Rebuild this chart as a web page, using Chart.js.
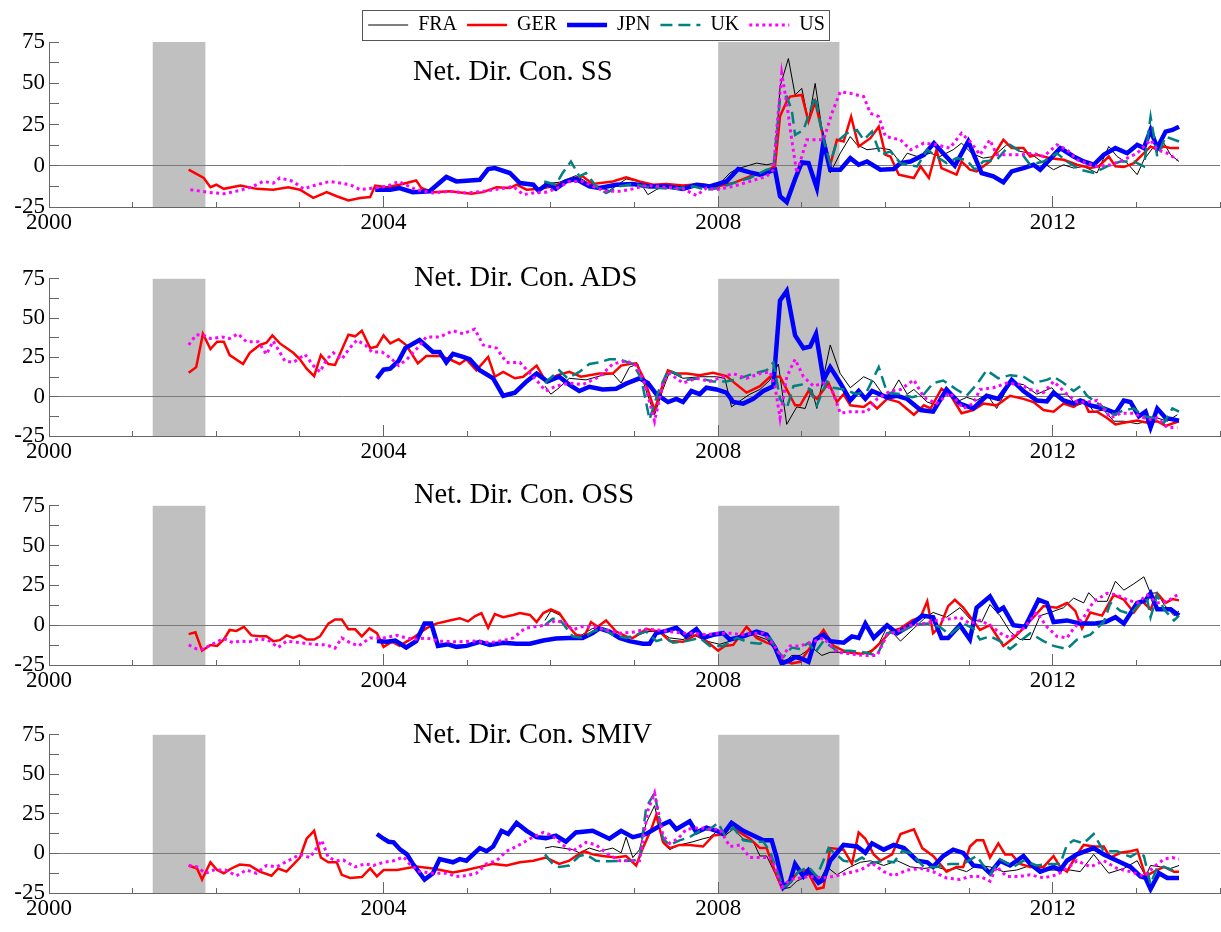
<!DOCTYPE html>
<html><head><meta charset="utf-8">
<script src="https://cdn.jsdelivr.net/npm/chart.js@4.4.1/dist/chart.umd.min.js"></script>
<style>
html,body{margin:0;padding:0;background:#fff;overflow:hidden;}
#wrap{position:relative;width:1221px;height:932px;overflow:hidden;background:#fff;}
.pnl{position:absolute;left:0;width:1221px;overflow:visible;}
.pnl canvas{display:block;}
.ttl{position:absolute;font-family:"Liberation Serif",serif;font-size:28.5px;line-height:28px;color:#000;white-space:nowrap;}
</style></head><body>
<div id="wrap"></div>
<script>
// ---------------- data ----------------
const countries = ['FRA','GER','JPN','UK','US'];
const panelTitles = ['Net. Dir. Con. SS','Net. Dir. Con. ADS','Net. Dir. Con. OSS','Net. Dir. Con. SMIV'];
const xLabelYears = [2000, 2004, 2008, 2012];
const yLabelValues = [-25, 0, 25, 50, 75];
const recessionStart = [2001.24, 2008.0];
const recessionEnd = [2001.87, 2009.45];

// Panel 1: SS  ([year, value])
const ss_FRA = [[2005.92,-11],[2006.1,-10],[2006.3,-6],[2006.5,-12],[2006.7,-15],[2006.9,-8],[2007.06,-9.5],[2007.16,-17.5],[2007.26,-14.5],[2007.38,-12],[2007.58,-13],[2007.78,-12],[2007.98,-13],[2008.14,-4.4],[2008.22,-2],[2008.46,1.6],[2008.58,0.6],[2008.68,1.6],[2008.74,48],[2008.84,65],[2008.92,42.9],[2009.0,46.9],[2009.08,26.8],[2009.16,49.9],[2009.26,15.7],[2009.34,-4.4],[2009.46,7.6],[2009.58,17.7],[2009.66,12.7],[2009.78,9.7],[2009.94,10.7],[2010.06,9.7],[2010.18,1.6],[2010.26,7.6],[2010.38,5.6],[2010.54,7.6],[2010.65,5.6],[2010.81,9.7],[2010.91,13.7],[2011.03,7.6],[2011.17,4.6],[2011.29,5.6],[2011.45,12.7],[2011.61,8.7],[2011.73,7.6],[2011.89,1.6],[2012.01,-2.4],[2012.13,0.6],[2012.25,-1.4],[2012.37,-0.4],[2012.53,-4.4],[2012.67,11.7],[2012.77,5.6],[2012.89,1.6],[2013.01,-5.4],[2013.09,3.6],[2013.21,11.7],[2013.33,13.7],[2013.41,6.6],[2013.51,2.6]];
const ss_GER = [[2001.67,-2.4],[2001.85,-7.4],[2001.93,-13],[2002.0,-11.5],[2002.09,-14],[2002.29,-12],[2002.48,-14],[2002.68,-14.5],[2002.86,-13],[2003.0,-14.5],[2003.16,-19.5],[2003.32,-16],[2003.44,-18.5],[2003.58,-21],[2003.72,-19.5],[2003.84,-19],[2003.9,-12],[2004.04,-13],[2004.19,-11.5],[2004.39,-8.9],[2004.45,-13.5],[2004.59,-16],[2004.79,-15.5],[2005.05,-17],[2005.19,-16],[2005.35,-13],[2005.51,-13.5],[2005.59,-11.5],[2005.71,-14.5],[2005.87,-14],[2006.02,-12.5],[2006.26,-7.8],[2006.38,-6.4],[2006.5,-11],[2006.74,-9.5],[2006.9,-7],[2007.06,-9.5],[2007.22,-11.5],[2007.38,-11],[2007.58,-12],[2007.78,-11],[2007.98,-12.5],[2008.18,-10.5],[2008.38,-6.4],[2008.58,-3.4],[2008.68,0],[2008.74,30],[2008.82,39],[2008.86,41.9],[2009.0,42.9],[2009.08,26.8],[2009.16,38.8],[2009.26,16.7],[2009.34,0.6],[2009.42,15.7],[2009.5,14.7],[2009.59,29.8],[2009.68,11.7],[2009.82,16.7],[2009.92,23.7],[2010.0,6.6],[2010.06,5.6],[2010.16,-5.4],[2010.34,-7.4],[2010.42,-0.4],[2010.52,-7.4],[2010.61,9.7],[2010.67,-1.4],[2010.85,-5.4],[2010.91,2.6],[2011.01,-2.4],[2011.09,-3.4],[2011.25,2.6],[2011.41,15.7],[2011.51,10.7],[2011.65,10.7],[2011.73,5.6],[2011.81,6.6],[2011.97,4.6],[2012.13,3.6],[2012.29,0.6],[2012.45,-1.4],[2012.55,-0.4],[2012.67,5.6],[2012.75,-0.4],[2012.85,-0.8],[2012.97,1.6],[2013.07,6.6],[2013.17,11.7],[2013.25,9.7],[2013.33,11.7],[2013.41,10.7],[2013.51,10.7]];
const ss_JPN = [[2003.9,-14.5],[2004.08,-14.5],[2004.19,-13.5],[2004.35,-16],[2004.55,-15.5],[2004.75,-6.8],[2004.87,-9.5],[2005.15,-8.5],[2005.25,-2],[2005.33,-1.4],[2005.51,-4.4],[2005.63,-10.5],[2005.79,-11.5],[2005.85,-15],[2005.96,-11],[2006.06,-14],[2006.18,-9.5],[2006.3,-8],[2006.46,-12.5],[2006.58,-13.5],[2006.78,-11.5],[2006.98,-11],[2007.18,-12.5],[2007.38,-12.5],[2007.58,-14],[2007.74,-11.5],[2007.9,-12.5],[2008.1,-9.5],[2008.24,-2],[2008.38,-4],[2008.5,-5.4],[2008.62,-3.4],[2008.68,-2.4],[2008.74,-18.5],[2008.82,-22],[2008.92,-8],[2009.0,2],[2009.08,1.6],[2009.18,-13.5],[2009.26,14.7],[2009.34,-2.4],[2009.46,-2.4],[2009.58,4.6],[2009.68,0.6],[2009.78,2.6],[2009.94,-2.4],[2010.1,-2],[2010.18,1.6],[2010.3,2.6],[2010.46,6.6],[2010.58,13.7],[2010.69,7.6],[2010.83,0],[2010.99,14.7],[2011.15,-4.4],[2011.29,-6.4],[2011.41,-10],[2011.51,-3.4],[2011.65,-1.4],[2011.77,0.6],[2011.85,-2.4],[2012.09,10.7],[2012.25,5.6],[2012.37,2.6],[2012.49,0.6],[2012.61,6.6],[2012.75,10.7],[2012.89,7.6],[2013.01,12.7],[2013.09,10.7],[2013.17,21.7],[2013.25,10.7],[2013.35,20.7],[2013.43,21.7],[2013.51,23.7]];
const ss_UK = [[2005.92,-9.5],[2006.06,-11.5],[2006.14,-4.4],[2006.24,2.6],[2006.34,-6.4],[2006.42,-4.4],[2006.54,-12.5],[2006.66,-16.5],[2006.82,-12.5],[2006.98,-11],[2007.14,-12.5],[2007.3,-13.5],[2007.5,-14],[2007.7,-12.5],[2007.86,-14.5],[2008.02,-13.5],[2008.18,-10.5],[2008.38,-7.4],[2008.58,-2.4],[2008.66,-1.4],[2008.74,40.8],[2008.82,41.9],[2008.88,33.8],[2008.92,18.7],[2009.02,21.7],[2009.16,41.9],[2009.26,15.7],[2009.34,1.6],[2009.42,14.7],[2009.54,19.7],[2009.66,21.7],[2009.74,15.7],[2009.84,20.7],[2009.94,6.6],[2010.06,8.7],[2010.18,1.6],[2010.26,0.6],[2010.38,-0.4],[2010.5,9.7],[2010.61,5.6],[2010.73,1.6],[2010.85,4.6],[2010.97,3.6],[2011.07,-2.4],[2011.17,2.6],[2011.33,3.6],[2011.49,12.7],[2011.61,8.7],[2011.73,0.6],[2011.89,2.6],[2012.05,7.6],[2012.17,2.6],[2012.33,-2.4],[2012.49,-4.4],[2012.65,-0.4],[2012.81,2.6],[2012.97,2.6],[2013.09,-0.4],[2013.17,29.8],[2013.25,5.6],[2013.35,17.7],[2013.51,14.7]];
const ss_US = [[2001.69,-14.5],[2001.89,-16],[2002.09,-17],[2002.28,-15],[2002.44,-12.5],[2002.56,-9.5],[2002.68,-10.5],[2002.76,-7.4],[2002.92,-9.5],[2003.04,-14],[2003.2,-11.5],[2003.36,-9.5],[2003.48,-10.5],[2003.6,-11.5],[2003.72,-14.5],[2003.88,-13.5],[2004.04,-12.5],[2004.18,-9.5],[2004.39,-14.5],[2004.59,-16.5],[2004.79,-15.5],[2004.99,-16.5],[2005.19,-15.5],[2005.39,-14],[2005.55,-12.5],[2005.67,-17.5],[2005.79,-16.5],[2005.94,-16],[2006.06,-14],[2006.22,-9.5],[2006.38,-9.5],[2006.5,-12.5],[2006.66,-15.5],[2006.82,-15.5],[2006.98,-14],[2007.14,-12],[2007.38,-13],[2007.58,-14],[2007.74,-18],[2007.86,-13.5],[2007.98,-14.5],[2008.18,-12.5],[2008.38,-9.5],[2008.58,-6.4],[2008.66,-2.4],[2008.7,21.7],[2008.76,56],[2008.82,37.8],[2008.88,15.7],[2008.94,-4.4],[2009.06,15.7],[2009.26,15.7],[2009.36,31.8],[2009.46,44.9],[2009.58,43.9],[2009.74,41.9],[2009.82,31.8],[2009.92,29.8],[2010.0,17.7],[2010.18,15.7],[2010.3,9.7],[2010.46,13.7],[2010.61,12.7],[2010.77,10.7],[2010.91,19.7],[2011.03,13.7],[2011.13,6.6],[2011.25,15.7],[2011.33,6.6],[2011.45,6.6],[2011.61,6.6],[2011.77,7.6],[2011.89,5.6],[2012.05,12.7],[2012.17,9.7],[2012.29,3.6],[2012.41,1.6],[2012.53,-0.4],[2012.69,0.6],[2012.85,3.6],[2013.01,7.6],[2013.17,15.7],[2013.25,9.7],[2013.37,7.6],[2013.49,3.6]];

// Panel 2: ADS
const ads_FRA = [[2005.93,6.7],[2006.0,1.6],[2006.1,5.7],[2006.22,11.7],[2006.42,10.7],[2006.62,13.7],[2006.74,14.7],[2006.84,8.7],[2006.94,18.8],[2007.04,20.8],[2007.14,3.6],[2007.24,-11.5],[2007.34,4.6],[2007.42,15.8],[2007.58,11.7],[2007.78,12.7],[2007.98,12.7],[2008.08,11.7],[2008.16,-6.5],[2008.24,-3.4],[2008.38,1.6],[2008.5,4.6],[2008.62,10.7],[2008.72,20.8],[2008.82,-17.6],[2008.94,-6.5],[2009.04,-7.5],[2009.12,4.6],[2009.18,-7.5],[2009.26,12.7],[2009.34,32.9],[2009.46,14.7],[2009.58,5.7],[2009.74,12.7],[2009.86,9.7],[2009.98,0.6],[2010.06,1.6],[2010.16,10.7],[2010.26,1.6],[2010.34,4.6],[2010.5,-3.4],[2010.61,-5.5],[2010.73,3.6],[2010.85,-3.4],[2010.97,-0.4],[2011.09,-2.4],[2011.21,1.6],[2011.33,-7.5],[2011.49,8.7],[2011.65,7.7],[2011.81,1.6],[2011.99,5.7],[2012.05,1.6],[2012.17,1.6],[2012.29,-5.5],[2012.41,-3.4],[2012.49,-9.5],[2012.61,-8.5],[2012.73,-15.6],[2012.85,-15.6],[2013.01,-17.2],[2013.13,-15.6],[2013.25,-13.5],[2013.37,-15.6],[2013.49,-11.5]];
const ads_GER = [[2001.67,15.2],[2001.76,18.8],[2001.84,40],[2001.93,30.3],[2002.01,35],[2002.09,35],[2002.16,26.5],[2002.32,20.8],[2002.4,27.9],[2002.52,32.9],[2002.6,34.3],[2002.67,39],[2002.76,33.9],[2002.92,27.9],[2003.0,23.8],[2003.08,17.8],[2003.17,13.1],[2003.25,26.5],[2003.34,20.8],[2003.42,20.2],[2003.58,39.4],[2003.66,38.4],[2003.74,42],[2003.84,30.9],[2003.92,31.9],[2004.0,39],[2004.08,33.9],[2004.18,36.6],[2004.27,32.9],[2004.41,21.2],[2004.51,25.9],[2004.67,25.9],[2004.79,23.8],[2004.91,20.8],[2004.99,23.8],[2005.11,16.8],[2005.25,25.3],[2005.33,12.7],[2005.43,15.8],[2005.57,11.7],[2005.67,12.7],[2005.83,19.8],[2005.94,9.7],[2006.08,13.7],[2006.22,15.8],[2006.36,12.7],[2006.58,14.7],[2006.74,14.7],[2006.84,19.8],[2006.94,20.8],[2007.02,21.2],[2007.12,10.7],[2007.24,-8.5],[2007.32,4.6],[2007.4,16.8],[2007.5,14.7],[2007.62,14.7],[2007.78,13.7],[2007.94,15.2],[2008.1,13.1],[2008.22,7.7],[2008.34,2.6],[2008.5,6.7],[2008.62,12.7],[2008.74,12.7],[2008.84,2.6],[2008.92,-5.5],[2008.98,-5.5],[2009.08,3.6],[2009.18,-1.4],[2009.32,8.7],[2009.42,-3.4],[2009.5,1.6],[2009.58,-5.5],[2009.74,-6.5],[2009.82,-3.4],[2009.9,-7.5],[2010.02,-1.4],[2010.16,-3.4],[2010.34,-11.5],[2010.46,-5.5],[2010.54,-7.5],[2010.67,5],[2010.77,1.6],[2010.91,-10.5],[2011.05,-8.5],[2011.17,-4.4],[2011.33,-5.5],[2011.49,0.6],[2011.65,-1.4],[2011.77,-3.4],[2011.89,-8.5],[2012.01,-9.5],[2012.13,-4.4],[2012.25,-6.5],[2012.37,-2.4],[2012.43,-9.5],[2012.53,-9.5],[2012.65,-13.5],[2012.75,-17.6],[2012.85,-16.6],[2013.01,-15.2],[2013.13,-16.6],[2013.25,-15.6],[2013.35,-18.6],[2013.51,-15.6]];
const ads_JPN = [[2003.92,11.7],[2004.0,17.2],[2004.08,17.8],[2004.18,22.8],[2004.26,30.9],[2004.43,36],[2004.59,28.5],[2004.67,28.5],[2004.75,21.8],[2004.83,27.3],[2004.95,25.3],[2005.03,23.8],[2005.15,16.8],[2005.31,11.7],[2005.43,0.6],[2005.57,2.6],[2005.71,9.7],[2005.83,14.7],[2005.96,9.7],[2006.1,12.7],[2006.22,7.7],[2006.34,3.6],[2006.46,6.3],[2006.62,4.6],[2006.78,5.1],[2006.9,8.3],[2007.06,11.7],[2007.16,8.7],[2007.26,1.6],[2007.4,-3.4],[2007.5,-1.4],[2007.58,-3.4],[2007.68,3.6],[2007.78,1.6],[2007.86,5.7],[2007.98,4.6],[2008.1,2.6],[2008.18,-3.4],[2008.3,-4.4],[2008.42,-1.4],[2008.54,3.6],[2008.66,6.7],[2008.74,61.2],[2008.82,67.3],[2008.92,39],[2009.02,30.9],[2009.1,31.9],[2009.17,40],[2009.26,10.7],[2009.34,18.8],[2009.46,8.7],[2009.58,-2.4],[2009.68,3.6],[2009.76,-1.4],[2009.84,3.6],[2010.02,-0.4],[2010.14,0.6],[2010.26,-1.4],[2010.42,-8.5],[2010.57,-9.5],[2010.73,4.6],[2010.89,-4.4],[2011.05,-7.5],[2011.21,0.6],[2011.35,-1.4],[2011.51,10.7],[2011.65,3.6],[2011.81,-2.4],[2011.93,-3],[2012.01,2.6],[2012.13,-2.4],[2012.25,-4.4],[2012.33,-2.4],[2012.45,-5.5],[2012.61,-7.5],[2012.75,-10.5],[2012.85,-2.4],[2012.93,-3.4],[2013.03,-12.5],[2013.11,-9.5],[2013.17,-19.6],[2013.25,-7.5],[2013.35,-13.5],[2013.51,-15.2]];
const ads_UK = [[2005.93,8.7],[2006.1,16.8],[2006.2,11.7],[2006.34,15.8],[2006.46,20.8],[2006.58,21.8],[2006.7,23.8],[2006.82,23.8],[2006.98,20.8],[2007.08,11.7],[2007.18,-14.5],[2007.28,2.6],[2007.4,16.8],[2007.5,14.7],[2007.62,10.7],[2007.78,11.7],[2007.94,9.7],[2008.1,9.7],[2008.26,11.7],[2008.42,14.7],[2008.58,16.8],[2008.66,21.8],[2008.74,-1.4],[2008.82,-7.5],[2008.9,6.7],[2009.0,7.7],[2009.1,4.6],[2009.18,-5.5],[2009.3,9.7],[2009.38,5.7],[2009.5,4.6],[2009.66,1.6],[2009.78,3.6],[2009.92,18.8],[2010.02,2.6],[2010.18,1.6],[2010.32,-0.4],[2010.46,1.6],[2010.57,8.7],[2010.69,10.3],[2010.85,4.6],[2010.97,0.6],[2011.09,7.7],[2011.21,16.8],[2011.35,11.7],[2011.49,13.7],[2011.65,12.7],[2011.77,8.7],[2011.93,10.7],[2012.01,12.7],[2012.13,8.7],[2012.25,3.6],[2012.33,6.7],[2012.41,0.6],[2012.57,-5.5],[2012.73,-11.5],[2012.85,-8.5],[2012.97,-7.5],[2013.09,-12.5],[2013.21,-13.5],[2013.33,-16.6],[2013.43,-7.5],[2013.51,-9.5]];
const ads_US = [[2001.67,32.9],[2001.76,39.4],[2001.85,39],[2001.93,37],[2002.07,38],[2002.16,37],[2002.26,40],[2002.36,35],[2002.5,35],[2002.6,26.9],[2002.68,35.4],[2002.82,22.8],[2002.92,21.8],[2003.06,26.9],[2003.16,19.8],[2003.24,15.8],[2003.32,23.8],[2003.4,27.9],[2003.5,23.8],[2003.58,29.9],[2003.68,36],[2003.78,32.9],[2003.86,28.5],[2003.98,28.5],[2004.08,24.8],[2004.18,19.8],[2004.28,23.8],[2004.42,31.9],[2004.51,38],[2004.67,38],[2004.83,42],[2004.95,40],[2005.09,43],[2005.19,32.9],[2005.35,30.9],[2005.47,21.8],[2005.63,21.8],[2005.79,12.7],[2005.94,3.6],[2006.06,6.7],[2006.22,8.7],[2006.38,7.7],[2006.58,12.7],[2006.74,20.8],[2006.9,22.8],[2007.02,19.8],[2007.12,8.7],[2007.24,-15.6],[2007.34,8.7],[2007.42,14.7],[2007.58,8.7],[2007.74,11.7],[2007.9,9.7],[2008.06,12.7],[2008.18,14.7],[2008.34,11.7],[2008.5,14.7],[2008.62,15.8],[2008.68,6.7],[2008.74,-13.5],[2008.82,12.7],[2008.92,23.8],[2009.02,12.7],[2009.14,6.7],[2009.26,8.7],[2009.36,4.6],[2009.46,-10.5],[2009.58,-9.5],[2009.78,-9.5],[2009.9,-1.4],[2010.06,3.6],[2010.18,4.6],[2010.34,10.7],[2010.46,-0.4],[2010.61,-4.4],[2010.77,2.6],[2010.93,-7.5],[2011.05,-4.4],[2011.13,4.6],[2011.29,5.7],[2011.45,8.7],[2011.61,7.7],[2011.73,4.6],[2011.89,2.6],[2012.01,9.7],[2012.17,1.6],[2012.29,-3.4],[2012.41,-3.4],[2012.53,-2.4],[2012.69,-13.5],[2012.81,-10.5],[2012.97,-10.5],[2013.09,-13.5],[2013.17,-14.5],[2013.25,-13.5],[2013.37,-19.6],[2013.49,-19.6]];

// Panel 3: OSS
const oss_FRA = [[2005.93,3],[2006.0,9],[2006.12,6],[2006.22,-2],[2006.34,-7],[2006.5,-2],[2006.66,-3],[2006.82,-7],[2006.98,-8],[2007.14,-4],[2007.3,-4],[2007.42,-8],[2007.58,-9],[2007.7,-6],[2007.86,-10],[2008.02,-12],[2008.14,-10],[2008.26,-7],[2008.42,-6],[2008.58,-9],[2008.7,-15],[2008.78,-24],[2008.88,-19],[2008.98,-19],[2009.12,-14],[2009.24,-19],[2009.34,-17],[2009.58,-17],[2009.74,-18],[2009.9,-14],[2010.02,-1],[2010.18,-10],[2010.34,-2],[2010.46,4],[2010.57,8],[2010.73,5],[2010.89,11],[2011.01,4],[2011.15,2],[2011.25,13],[2011.37,6],[2011.49,-4],[2011.61,-9],[2011.73,-9],[2011.85,6],[2011.97,8],[2012.13,11],[2012.25,17],[2012.37,14],[2012.43,20.4],[2012.53,15],[2012.65,15],[2012.75,27.6],[2012.85,22],[2012.97,26],[2013.09,30.4],[2013.17,20],[2013.25,20.4],[2013.33,13],[2013.45,6],[2013.51,9]];
const oss_GER = [[2001.67,-5.6],[2001.75,-4.4],[2001.83,-16],[2001.93,-12.4],[2002.01,-13],[2002.09,-9],[2002.16,-3],[2002.24,-3.6],[2002.33,-1],[2002.42,-6.4],[2002.52,-7],[2002.6,-7],[2002.68,-10],[2002.76,-9.4],[2002.84,-6.4],[2002.92,-8],[2003.0,-6.4],[2003.08,-9],[2003.17,-9],[2003.24,-7],[2003.34,1],[2003.42,3.6],[2003.5,3.6],[2003.58,-2.6],[2003.66,-2.6],[2003.74,-7],[2003.83,-2],[2003.92,-5],[2004.0,-13.6],[2004.1,-10.4],[2004.19,-13],[2004.35,-8],[2004.51,-2],[2004.63,1],[2004.79,3],[2004.91,4.4],[2005.01,2.4],[2005.09,5.6],[2005.17,7.6],[2005.25,-1.6],[2005.33,7],[2005.43,5],[2005.55,6.4],[2005.63,7.6],[2005.75,6.4],[2005.83,2],[2005.91,7.6],[2006.0,10],[2006.1,7.6],[2006.2,0],[2006.3,-6],[2006.4,-7],[2006.48,2],[2006.56,-1],[2006.66,3],[2006.78,-4],[2006.9,-7],[2006.98,-8],[2007.14,-2.4],[2007.3,-4],[2007.42,-10],[2007.58,-10.4],[2007.74,-6],[2007.86,-10],[2008.0,-16],[2008.08,-13],[2008.18,-12.4],[2008.34,-1],[2008.46,-8],[2008.58,-11],[2008.68,-13],[2008.76,-22],[2008.88,-24],[2008.98,-23],[2009.1,-14],[2009.26,-3],[2009.38,-13],[2009.54,-17],[2009.7,-18],[2009.82,-17],[2009.94,-11],[2010.06,-4],[2010.18,-2],[2010.32,3],[2010.42,5],[2010.5,15],[2010.57,-5],[2010.65,-1],[2010.75,12],[2010.83,16],[2010.93,11],[2011.03,4],[2011.13,-3],[2011.25,0],[2011.41,-13],[2011.53,-8],[2011.65,-2],[2011.77,5],[2011.89,12],[2012.05,11],[2012.17,14],[2012.27,9],[2012.35,-2],[2012.45,8],[2012.59,6],[2012.73,19],[2012.85,16],[2012.97,8],[2013.07,15],[2013.17,10],[2013.25,20],[2013.35,14],[2013.43,16.4],[2013.51,15.6]];
const oss_JPN = [[2003.92,-10],[2004.04,-10.4],[2004.14,-9.6],[2004.27,-14],[2004.39,-10],[2004.49,1],[2004.57,1],[2004.65,-13],[2004.77,-12],[2004.87,-13.6],[2004.99,-13],[2005.15,-10.4],[2005.27,-12.4],[2005.43,-11],[2005.59,-11.6],[2005.75,-11.6],[2005.91,-9.6],[2006.06,-8.4],[2006.22,-8],[2006.38,-8],[2006.5,-5],[2006.58,-2],[2006.7,-4],[2006.82,-8],[2006.94,-10],[2007.1,-11.6],[2007.18,-11.6],[2007.26,-5],[2007.38,-3.6],[2007.5,-1.6],[2007.62,-7],[2007.74,-2.4],[2007.82,-8],[2007.94,-6],[2008.06,-5],[2008.14,-9],[2008.3,-7],[2008.46,-4],[2008.58,-6],[2008.68,-14],[2008.76,-24],[2008.86,-22],[2008.92,-20],[2009.0,-21],[2009.08,-23],[2009.16,-9],[2009.26,-6],[2009.34,-10],[2009.5,-11],[2009.6,-7],[2009.68,-8],[2009.76,1],[2009.86,-8],[2010.02,0],[2010.14,-5],[2010.3,0],[2010.44,6],[2010.57,5],[2010.67,-8],[2010.75,-8],[2010.89,0],[2011.01,-9],[2011.09,11],[2011.25,18],[2011.35,9],[2011.41,11],[2011.53,0],[2011.67,-1],[2011.83,16],[2011.93,14],[2012.01,2],[2012.17,3],[2012.33,1],[2012.49,1],[2012.63,2],[2012.75,5],[2012.85,1],[2013.01,14],[2013.11,15.6],[2013.17,20],[2013.25,10],[2013.41,10],[2013.51,6]];
const oss_UK = [[2005.93,0],[2006.02,4],[2006.1,4],[2006.16,0],[2006.26,-7],[2006.38,-8],[2006.5,-4],[2006.62,-2],[2006.74,-6],[2006.9,-8],[2007.02,-6],[2007.14,-4],[2007.26,-10],[2007.38,-8],[2007.46,-11],[2007.62,-10],[2007.78,-8],[2007.9,-13],[2008.06,-13],[2008.22,-8],[2008.38,-11],[2008.5,-11.6],[2008.62,-8],[2008.7,-16],[2008.78,-20],[2008.88,-14],[2008.98,-15],[2009.08,-11],[2009.16,-17],[2009.26,-10],[2009.42,-16],[2009.58,-16],[2009.74,-17],[2009.9,-19],[2010.02,-5],[2010.18,-4],[2010.34,0],[2010.5,1],[2010.65,-1],[2010.77,-6],[2010.93,1],[2011.05,-2],[2011.13,-9],[2011.25,-7],[2011.37,-10],[2011.49,-15],[2011.61,-10],[2011.73,-5],[2011.89,-10],[2012.01,-13],[2012.17,-15],[2012.29,-9],[2012.45,-6],[2012.61,2],[2012.69,14],[2012.81,9],[2012.93,7],[2013.05,14],[2013.13,16],[2013.17,5],[2013.25,19],[2013.33,10],[2013.45,3],[2013.51,6]];
const oss_US = [[2001.67,-12.4],[2001.77,-15],[2001.85,-15],[2001.93,-12.4],[2002.09,-8.4],[2002.2,-11],[2002.28,-10],[2002.4,-10.4],[2002.52,-8.4],[2002.64,-10],[2002.74,-14],[2002.84,-10],[2003.0,-11],[2003.16,-12],[2003.32,-12.4],[2003.42,-14.4],[2003.5,-8],[2003.6,-11],[2003.7,-13],[2003.84,-8],[2004.0,-8],[2004.16,-6.4],[2004.35,-9],[2004.51,-8],[2004.67,-10],[2004.87,-10.4],[2005.07,-10],[2005.27,-11],[2005.43,-9.6],[2005.55,-8],[2005.69,-2],[2005.79,-1],[2005.94,0],[2006.06,3],[2006.18,1],[2006.26,-3],[2006.36,-1],[2006.5,-1],[2006.66,-3],[2006.82,-5],[2006.98,-4.4],[2007.14,-2.4],[2007.28,-3],[2007.42,-4],[2007.58,-5],[2007.7,-5],[2007.86,-6],[2008.02,-5],[2008.14,-5],[2008.3,-6],[2008.42,-5],[2008.54,-5],[2008.66,-12],[2008.76,-20],[2008.86,-13],[2008.98,-13],[2009.1,-11],[2009.26,-8],[2009.42,-17],[2009.58,-18],[2009.74,-19],[2009.9,-19],[2010.02,-6],[2010.14,-4],[2010.3,0],[2010.46,1],[2010.61,3],[2010.77,4],[2010.89,5],[2011.01,1],[2011.13,3],[2011.25,0],[2011.37,-5],[2011.49,-8],[2011.65,-2],[2011.81,8],[2011.93,-1],[2012.05,-7],[2012.17,-8],[2012.25,-2],[2012.37,5],[2012.49,15],[2012.65,20],[2012.77,19],[2012.89,16],[2013.01,14],[2013.13,19],[2013.25,14],[2013.37,15],[2013.49,19]];

// Panel 4: SMIV
const smiv_FRA = [[2005.93,3.4],[2006.02,4.4],[2006.14,3.4],[2006.26,2.4],[2006.34,0.4],[2006.46,3.4],[2006.58,1.4],[2006.74,3.4],[2006.84,0.4],[2006.9,10.3],[2006.98,-2.6],[2007.06,2.4],[2007.14,19.3],[2007.24,30.2],[2007.34,6.4],[2007.42,2.4],[2007.54,5.4],[2007.7,7.4],[2007.82,9.3],[2007.9,10.3],[2008.0,14.3],[2008.08,11.3],[2008.18,15.3],[2008.3,9.3],[2008.42,7.4],[2008.5,-1.6],[2008.58,-1.6],[2008.68,-12.5],[2008.76,-22.5],[2008.86,-21.5],[2008.94,-17.5],[2009.02,-15.5],[2009.1,-12.5],[2009.22,-16.5],[2009.3,-8.5],[2009.42,-13.5],[2009.58,-8.5],[2009.7,-5.6],[2009.82,-4.6],[2009.98,-7.6],[2010.14,-4.6],[2010.3,-8.5],[2010.46,-9.5],[2010.61,-8.5],[2010.73,-10.5],[2010.85,-9.5],[2010.97,-11.5],[2011.09,-7.6],[2011.25,-8.5],[2011.41,-11.5],[2011.57,-10.5],[2011.73,-7.6],[2011.89,-10.5],[2012.05,-10.5],[2012.21,-10.5],[2012.33,-11.5],[2012.49,-0.6],[2012.67,-12.5],[2012.85,-9.5],[2013.01,-4.6],[2013.11,-14.5],[2013.17,-7.6],[2013.29,-8.5],[2013.41,-9.5],[2013.51,-7.6]];
const smiv_GER = [[2001.67,-7.6],[2001.77,-9.5],[2001.83,-16.5],[2001.93,-5.6],[2002.01,-10.5],[2002.09,-12.5],[2002.18,-9.5],[2002.28,-7],[2002.4,-7.6],[2002.52,-11.5],[2002.66,-14.1],[2002.74,-9.5],[2002.84,-11.5],[2003.0,-2.6],[2003.08,9.3],[2003.17,14.3],[2003.25,-2.6],[2003.34,-5.6],[2003.44,-5.6],[2003.5,-13.5],[2003.6,-15.5],[2003.74,-14.9],[2003.84,-9.5],[2003.92,-14.5],[2004.0,-10.5],[2004.16,-10.5],[2004.39,-8.2],[2004.59,-9.5],[2004.83,-12.1],[2004.99,-10.5],[2005.15,-8.5],[2005.31,-6.6],[2005.47,-7.6],[2005.63,-5.6],[2005.79,-4.6],[2005.94,-2.6],[2006.1,-6.6],[2006.22,-4.6],[2006.3,-1.6],[2006.4,1.4],[2006.5,-0.6],[2006.62,-1.6],[2006.78,-2.6],[2006.9,-1.6],[2007.02,-7.6],[2007.1,3.4],[2007.2,15.3],[2007.26,24.3],[2007.34,7.4],[2007.42,3.4],[2007.54,5.4],[2007.66,5.4],[2007.82,4.4],[2007.94,11.3],[2008.08,12.3],[2008.16,18.3],[2008.26,13.3],[2008.38,9.3],[2008.5,3.4],[2008.58,3.4],[2008.68,-11.5],[2008.76,-21.5],[2008.86,-18.5],[2008.94,-12.5],[2009.06,-10.5],[2009.18,-22.5],[2009.26,-21.5],[2009.34,3.4],[2009.5,2.4],[2009.6,-6.6],[2009.68,13.3],[2009.76,9.3],[2009.86,-0.6],[2009.94,-4.6],[2010.08,-0.6],[2010.18,12.3],[2010.34,15.3],[2010.44,3.4],[2010.57,-1.6],[2010.73,-11.5],[2010.85,-8.5],[2010.93,-8.5],[2011.01,4.4],[2011.09,8.3],[2011.17,8.3],[2011.25,-2.6],[2011.35,6.4],[2011.43,-0.6],[2011.51,-0.6],[2011.61,-6.6],[2011.73,-8.5],[2011.89,-8.5],[2012.01,-1.6],[2012.09,-8.5],[2012.17,-11.5],[2012.29,-0.6],[2012.37,5.4],[2012.49,4.4],[2012.61,4.4],[2012.69,-2.6],[2012.81,0.4],[2012.93,1.4],[2013.01,2.4],[2013.11,-14.5],[2013.21,-11.5],[2013.33,-8.5],[2013.45,-11.5],[2013.51,-11.5]];
const smiv_JPN = [[2003.92,12.3],[2004.0,9.3],[2004.06,7.4],[2004.12,7],[2004.2,2.4],[2004.28,-0.6],[2004.35,-6.6],[2004.49,-16.5],[2004.59,-12.5],[2004.67,-3.6],[2004.83,-5.6],[2004.91,-3.6],[2004.99,-4.6],[2005.15,3.4],[2005.23,1.4],[2005.31,4.4],[2005.41,14.3],[2005.49,12.3],[2005.59,19.3],[2005.71,14.3],[2005.83,10.3],[2005.94,9.7],[2006.06,11.3],[2006.18,7.4],[2006.3,13.3],[2006.5,14.3],[2006.7,9.3],[2006.84,14.3],[2006.98,10.3],[2007.14,12.3],[2007.3,17.3],[2007.42,20.3],[2007.5,15.3],[2007.66,20.3],[2007.74,13.3],[2007.86,16.3],[2007.98,14.3],[2008.06,12.3],[2008.16,19.3],[2008.3,14.3],[2008.42,11.3],[2008.54,8.3],[2008.64,8.3],[2008.7,-2.6],[2008.78,-21.5],[2008.86,-17.5],[2008.92,-6.6],[2009.02,-14.5],[2009.08,-10.5],[2009.2,-18.5],[2009.26,-16.5],[2009.34,-4.6],[2009.5,5.4],[2009.66,4.4],[2009.76,0.4],[2009.84,6.4],[2009.98,2.4],[2010.1,5.4],[2010.22,3.4],[2010.38,-4.6],[2010.5,-5.6],[2010.57,-8.5],[2010.69,-1.6],[2010.81,2.4],[2010.93,0.4],[2011.05,-7.6],[2011.17,-8.5],[2011.25,-12.5],[2011.37,-4.6],[2011.49,-7.6],[2011.65,-1.6],[2011.73,-6.6],[2011.85,-11.5],[2012.01,-8.5],[2012.09,-10.5],[2012.17,-4.6],[2012.29,-0.6],[2012.49,3.4],[2012.61,-0.6],[2012.77,-4.6],[2012.93,-8.5],[2013.05,-14.5],[2013.11,-15.5],[2013.17,-22.5],[2013.27,-12.5],[2013.37,-15.5],[2013.51,-15.5]];
const smiv_UK = [[2005.93,-0.6],[2006.02,-6.6],[2006.1,-8.5],[2006.22,-7.6],[2006.34,-1.6],[2006.42,-0.6],[2006.54,-4.6],[2006.7,-5],[2006.86,-4.6],[2006.98,-4.6],[2007.06,-3.6],[2007.14,29.2],[2007.24,38.2],[2007.34,9.3],[2007.42,5.4],[2007.54,8.3],[2007.66,10.3],[2007.78,14.3],[2007.9,15.3],[2008.0,19.3],[2008.08,11.3],[2008.18,16.3],[2008.3,8.3],[2008.42,7.4],[2008.54,7.4],[2008.62,1.4],[2008.7,-10.5],[2008.78,-21.5],[2008.88,-17.5],[2008.96,-11.5],[2009.08,-8.5],[2009.18,-14.5],[2009.32,3.4],[2009.5,-4.6],[2009.62,-5.6],[2009.72,-2.6],[2009.82,-6.2],[2009.98,-4.6],[2010.1,-5.6],[2010.2,1.4],[2010.3,0.4],[2010.46,-8.5],[2010.61,-8.5],[2010.77,-6.6],[2010.93,-6.6],[2011.09,-1.6],[2011.25,-13.5],[2011.37,-3.6],[2011.53,-8.5],[2011.65,-4.6],[2011.81,-7.6],[2011.97,-6.6],[2012.09,-6.6],[2012.17,5.4],[2012.25,8.3],[2012.37,6.4],[2012.49,12.3],[2012.61,1.4],[2012.77,1.4],[2012.93,-2.2],[2013.01,0.4],[2013.09,-1.6],[2013.17,-19.5],[2013.25,-8.5],[2013.33,-8.5],[2013.43,-10.5],[2013.51,-11.5]];
const smiv_US = [[2001.67,-7.6],[2001.77,-8.5],[2001.87,-12.5],[2001.97,-10.5],[2002.11,-10.5],[2002.24,-14.1],[2002.36,-10.5],[2002.48,-12.5],[2002.6,-7.6],[2002.72,-8.5],[2002.86,-4.6],[2003.0,-0.6],[2003.12,-2.6],[2003.2,3.4],[2003.26,8.3],[2003.34,-2.6],[2003.44,-4.6],[2003.52,-4.2],[2003.66,-8.5],[2003.78,-6.6],[2003.88,-7.6],[2004.0,-5.6],[2004.12,-4.6],[2004.24,-2.2],[2004.31,-6.6],[2004.43,-11.5],[2004.59,-12.5],[2004.75,-12.5],[2004.87,-14.5],[2004.99,-14.1],[2005.11,-12.5],[2005.23,-6.6],[2005.35,-4.6],[2005.47,1.4],[2005.59,4.4],[2005.75,9.3],[2005.91,13.3],[2006.02,11.3],[2006.14,5.4],[2006.26,1.4],[2006.42,7],[2006.54,5.4],[2006.66,0.4],[2006.82,-4.6],[2006.94,-4.6],[2007.06,-4.6],[2007.16,27.2],[2007.24,38.2],[2007.34,11.3],[2007.42,6.4],[2007.52,9.3],[2007.62,15.3],[2007.78,16.3],[2007.9,15.3],[2008.02,15.3],[2008.14,4.4],[2008.26,5.4],[2008.38,-2.6],[2008.5,-2.6],[2008.62,-2.6],[2008.68,-8.5],[2008.76,-21.5],[2008.86,-16.5],[2008.98,-15.5],[2009.1,-14.5],[2009.26,-15.5],[2009.38,-14.5],[2009.54,-12.5],[2009.7,-10.5],[2009.84,-6.2],[2009.98,-11.5],[2010.1,-14.1],[2010.26,-10.5],[2010.42,-9.5],[2010.57,-11.5],[2010.73,-15.5],[2010.89,-16.5],[2011.01,-14.5],[2011.13,-14.5],[2011.25,-17.5],[2011.33,-8.5],[2011.45,-14.5],[2011.61,-14.5],[2011.73,-13.5],[2011.89,-15.5],[2012.05,-13.5],[2012.17,-9.5],[2012.29,-4.6],[2012.45,-8.5],[2012.61,-4.6],[2012.77,-9.5],[2012.93,-11.5],[2013.09,-14.5],[2013.21,-8.5],[2013.33,-3.6],[2013.43,-2.6],[2013.51,-3.6]];

const panelSeries = [
  [ss_FRA, ss_GER, ss_JPN, ss_UK, ss_US],
  [ads_FRA, ads_GER, ads_JPN, ads_UK, ads_US],
  [oss_FRA, oss_GER, oss_JPN, oss_UK, oss_US],
  [smiv_FRA, smiv_GER, smiv_JPN, smiv_UK, smiv_US]
];

// ---------------- styles & layout ----------------
const seriesStyle = {
  FRA: {borderColor:'#000000', borderWidth:1, order:5},
  GER: {borderColor:'#ff0000', borderWidth:2.5, order:4},
  JPN: {borderColor:'#0000ff', borderWidth:4.5, order:3},
  UK:  {borderColor:'#008080', borderWidth:2.5, borderDash:[12,6], order:2},
  US:  {borderColor:'#ff00ff', borderWidth:3, borderDash:[3,3.5], order:1}
};
const FONT = "'Liberation Serif', 'Times New Roman', serif";
const plotBox = [[42,207],[271,436],[498,665],[727,893]];
const titlePos = [[413,57],[414,263],[414,480],[413,720]];
const X_AXIS_H = 35, Y_AXIS_W = 49;
const X_TICK_PAD = 13;               // also becomes the right padding of the chart area
const CANVAS_W = 1220 + X_TICK_PAD;  // so that the plot ends at x = 1220

const recessionPlugin = {
  id: 'recessions',
  beforeDraw(chart) {
    const {ctx, chartArea, scales} = chart;
    const xs = scales.x;
    ctx.save();
    ctx.fillStyle = '#c0c0c0';
    for (let i = 0; i < recessionStart.length; i++) {
      const a = xs.getPixelForValue(recessionStart[i]);
      const b = xs.getPixelForValue(recessionEnd[i]);
      ctx.fillRect(a, chartArea.top, b - a, chartArea.bottom - chartArea.top);
    }
    ctx.restore();
  }
};
const legendFramePlugin = {
  id: 'legendFrame',
  afterLayout(chart) {
    const lg = chart.legend;
    if (!lg || !chart.options.plugins.legend.display) return;
    const dx = -20, dy = 3;
    lg.left += dx; lg.right += dx; lg.top += dy; lg.bottom += dy;
  },
  afterDraw(chart) {
    const lg = chart.legend;
    if (!lg || !chart.options.plugins.legend.display) return;
    const hb = lg.legendHitBoxes;
    if (!hb || !hb.length) return;
    const last = hb[hb.length - 1];
    const l = Math.round(hb[0].left - 6) + 0.5;
    const r = Math.round(last.left + last.width + 4) + 0.5;
    const t = Math.round(hb[0].top - 5) + 0.5;
    const b = Math.round(hb[0].top + hb[0].height + 5) + 0.5;
    const ctx = chart.ctx;
    ctx.save();
    ctx.strokeStyle = '#555';
    ctx.lineWidth = 1;
    ctx.setLineDash([]);
    ctx.strokeRect(l, t, r - l, b - t);
    ctx.restore();
  }
};

function legendLabels(chart) {
  const items = Chart.defaults.plugins.legend.labels.generateLabels(chart);
  items.forEach(it => {
    const ds = chart.data.datasets[it.datasetIndex];
    it.strokeStyle = ds.borderColor;
    it.fillStyle = ds.borderColor;
    it.lineWidth = ds.borderWidth;
    it.lineDash = ds.borderDash ? ds.borderDash.slice() : [];
    it.lineDashOffset = 0;
    it.lineCap = 'butt';
    it.pointStyle = 'line';
  });
  return items;
}

const wrap = document.getElementById('wrap');

function makePanel(p) {
  const withLegend = p === 0;
  const [pt, pb] = plotBox[p];
  const padTop = withLegend ? 2 : 20;
  const canvasTop = withLegend ? 0 : pt - padTop;
  const h = pb - canvasTop + X_AXIS_H;
  const div = document.createElement('div');
  div.className = 'pnl';
  div.style.top = canvasTop + 'px';
  div.style.height = h + 'px';
  const cv = document.createElement('canvas');
  cv.width = CANVAS_W; cv.height = h;
  cv.style.width = CANVAS_W + 'px'; cv.style.height = h + 'px';
  div.appendChild(cv);
  wrap.appendChild(div);

  const ttl = document.createElement('div');
  ttl.className = 'ttl';
  ttl.style.left = titlePos[p][0] + 'px';
  ttl.style.top = titlePos[p][1] + 'px';
  ttl.textContent = panelTitles[p];

  const datasets = countries.map((c, i) => Object.assign({
    label: c,
    data: panelSeries[p][i].map(d => ({x: d[0], y: d[1]})),
    pointRadius: 0,
    tension: 0,
    fill: false,
    borderCapStyle: 'butt',
    borderJoinStyle: 'miter'
  }, seriesStyle[c]));

  new Chart(cv, {
    type: 'line',
    data: {datasets},
    options: {
      responsive: false,
      animation: false,
      events: [],
      devicePixelRatio: 1,
      layout: {padding: {top: padTop, left: 0, right: 0, bottom: 0}},
      plugins: {
        tooltip: {enabled: false},
        title: {display: false},
        legend: {
          display: withLegend,
          position: 'top',
          align: 'center',
          labels: {
            usePointStyle: true,
            pointStyle: 'line',
            pointStyleWidth: 40,
            padding: 10,
            color: '#000',
            font: {family: FONT, size: 20},
            generateLabels: legendLabels,
            sort: (a, b) => a.datasetIndex - b.datasetIndex
          }
        }
      },
      scales: {
        x: {
          type: 'linear', min: 2000, max: 2014,
          afterFit: s => { s.height = X_AXIS_H; },
          ticks: {
            stepSize: 1, autoSkip: false, maxRotation: 0, minRotation: 0,
            padding: X_TICK_PAD, color: '#000',
            font: {family: FONT, size: 23},
            callback: v => xLabelYears.includes(v) ? String(v) : ''
          },
          grid: {
            drawOnChartArea: false, drawTicks: true, tickLength: -11, tickColor: '#666', tickWidth: 1,
            tickBorderDash: ctx => (ctx.tick && xLabelYears.includes(ctx.tick.value)) ? [] : [6, 30]
          },
          border: {display: true, color: '#666', width: 1}
        },
        y: {
          type: 'linear', min: -25, max: 75,
          afterFit: s => { s.width = Y_AXIS_W; },
          ticks: {
            stepSize: 12.5, autoSkip: false, padding: 14, color: '#000',
            font: {family: FONT, size: 23},
            callback: v => yLabelValues.includes(v) ? String(v) : ''
          },
          grid: {
            drawOnChartArea: true, drawTicks: true, tickLength: -10, tickWidth: 1, tickColor: '#666',
            color: ctx => (ctx.tick && ctx.tick.value === 0) ? '#7a7a7a' : 'rgba(0,0,0,0)',
            lineWidth: 1
          },
          border: {display: true, color: '#666', width: 1}
        }
      }
    },
    plugins: [recessionPlugin, legendFramePlugin]
  });
  wrap.appendChild(ttl);
}
for (let p = 0; p < 4; p++) makePanel(p);
</script>
</body></html>
